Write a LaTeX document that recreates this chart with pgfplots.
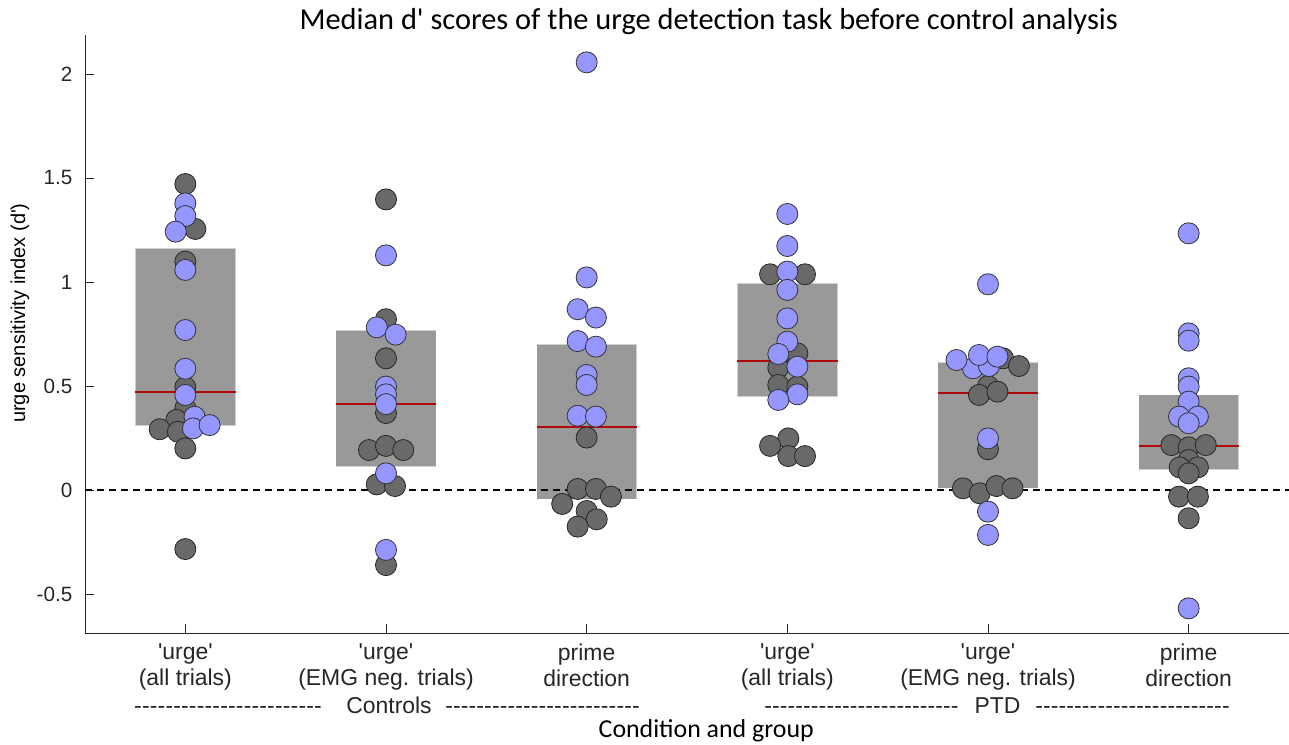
\documentclass[border=0pt]{standalone}
\usepackage{fontspec}
\setmainfont{Liberation Sans}
\newfontfamily\calibri{Carlito}
\usepackage{pgfplots}
\usepackage{pgfplotstable}
\pgfplotsset{compat=1.18}
\definecolor{dotdark}{RGB}{105,105,105}
\definecolor{dotblue}{RGB}{150,150,255}
\definecolor{medred}{RGB}{178,8,8}
\definecolor{axgray}{RGB}{38,38,38}
\newcommand\q{\textquotesingle}

\pgfplotstableread{
x y
1.000 1.471
1.050 1.255
1.000 1.098
1.000 0.494
1.000 0.393
0.955 0.337
0.872 0.292
0.963 0.280
1.000 0.200
1.000 -0.284
2.000 1.397
2.000 0.821
2.000 0.633
2.000 0.370
1.915 0.192
2.000 0.212
2.086 0.192
1.954 0.027
2.045 0.019
2.000 -0.361
3.000 0.252
2.955 0.005
3.046 0.005
3.121 -0.032
2.878 -0.067
3.000 -0.101
3.050 -0.141
2.955 -0.176
3.914 1.037
4.088 1.037
4.050 0.657
3.955 0.588
3.955 0.505
4.050 0.497
4.005 0.248
3.914 0.212
4.005 0.163
4.088 0.163
5.075 0.633
5.154 0.596
5.000 0.500
4.955 0.457
5.047 0.473
5.000 0.196
4.875 0.008
4.959 -0.016
5.042 0.019
5.122 0.008
5.914 0.216
6.000 0.205
6.085 0.216
6.000 0.144
6.046 0.109
5.955 0.109
6.000 0.080
5.952 -0.032
6.046 -0.032
6.000 -0.136
}\darkpts

\pgfplotstableread{
x y
1.000 1.378
1.000 1.317
0.952 1.242
1.000 1.058
1.000 0.769
1.000 0.583
1.000 0.457
1.046 0.352
1.038 0.296
1.121 0.312
2.000 1.128
1.954 0.782
2.048 0.747
2.000 0.497
2.000 0.460
2.000 0.413
2.000 0.080
2.000 -0.288
3.000 2.056
3.000 1.022
2.955 0.869
3.046 0.829
2.955 0.716
3.046 0.689
3.000 0.553
3.000 0.505
2.955 0.357
3.046 0.353
4.000 1.327
4.000 1.173
4.000 1.050
4.000 0.962
4.000 0.825
4.000 0.713
3.955 0.654
4.050 0.593
4.050 0.460
3.955 0.433
4.925 0.585
5.005 0.596
5.000 0.989
4.843 0.625
4.955 0.649
5.047 0.641
5.000 0.248
5.000 -0.104
5.000 -0.216
6.000 1.234
6.000 0.753
6.000 0.718
6.000 0.537
6.000 0.497
6.000 0.425
5.952 0.353
6.046 0.353
6.000 0.321
6.000 -0.569
}\bluepts

\begin{document}
\begin{tikzpicture}[x=1pt,y=1pt]
\useasboundingbox (0,0) rectangle (966.75,558.75);
\begin{axis}[
  at={(63.75pt,84pt)}, anchor=south west,
  scale only axis, width=903pt, height=448.5pt,
  xmin=0.5, xmax=6.5, ymin=-0.6875, ymax=2.1875,
  clip=false,
  axis x line*=bottom, axis y line*=left,
  axis line style={-, draw=axgray, line width=0.6pt},
  tick align=inside, major tick length=7pt,
  tick style={draw=axgray, line width=0.6pt},
  xtick={1,2,3,4,5,6},
  xticklabels={{\q urge\q\\(all trials)},{\q urge\q\\(EMG neg. trials)},{prime\\direction},{\q urge\q\\(all trials)},{\q urge\q\\(EMG neg. trials)},{prime\\direction}},
  xticklabel style={align=center, font=\fontsize{17.2}{19.5}\selectfont, text=axgray, yshift=-4.5pt},
  ytick={-0.5,0,0.5,1,1.5,2},
  yticklabel style={font=\fontsize{15.5}{18}\selectfont, text=axgray, xshift=-6pt},
  /pgf/number format/assume math mode=true,
  title={Median d\q{} scores of the urge detection task before control analysis},
  title style={at={(axis description cs:0.518,1.0083)}, anchor=center, yshift=0pt, font=\calibri\fontsize{22.8}{26}\selectfont},
  xlabel={Condition and group},
  xlabel style={at={(axis description cs:0.516,-0.164)}, anchor=center, font=\calibri\fontsize{19.4}{23}\selectfont},
  ylabel={urge sensitivity index (d\q)},
  ylabel style={at={(axis description cs:-0.054,0.535)}, anchor=center, rotate=0, font=\fontsize{15}{18}\selectfont},
]
% points
\addplot[only marks, mark=*, mark size=7.9pt, mark options={fill=dotdark, draw=black!85, line width=0.6pt}] table[x=x,y=y] {\darkpts};
\addplot[only marks, mark=*, mark size=7.9pt, mark options={fill=dotblue, draw=black!80, line width=0.6pt}] table[x=x,y=y] {\bluepts};
% boxes (quartiles)
\addplot[fill=black, fill opacity=0.4, draw=white, draw opacity=0.55, line width=0.8pt] coordinates {(0.75,0.308) (1.25,0.308) (1.25,1.163) (0.75,1.163)} -- cycle;
\addplot[fill=black, fill opacity=0.4, draw=white, draw opacity=0.55, line width=0.8pt] coordinates {(1.75,0.112) (2.25,0.112) (2.25,0.769) (1.75,0.769)} -- cycle;
\addplot[fill=black, fill opacity=0.4, draw=white, draw opacity=0.55, line width=0.8pt] coordinates {(2.75,-0.045) (3.25,-0.045) (3.25,0.700) (2.75,0.700)} -- cycle;
\addplot[fill=black, fill opacity=0.4, draw=white, draw opacity=0.55, line width=0.8pt] coordinates {(3.75,0.449) (4.25,0.449) (4.25,0.994) (3.75,0.994)} -- cycle;
\addplot[fill=black, fill opacity=0.4, draw=white, draw opacity=0.55, line width=0.8pt] coordinates {(4.75,0.008) (5.25,0.008) (5.25,0.614) (4.75,0.614)} -- cycle;
\addplot[fill=black, fill opacity=0.4, draw=white, draw opacity=0.55, line width=0.8pt] coordinates {(5.75,0.096) (6.25,0.096) (6.25,0.457) (5.75,0.457)} -- cycle;
% medians
\addplot[medred, line width=1.5pt] coordinates {(0.75,0.470) (1.25,0.470)};
\addplot[medred, line width=1.5pt] coordinates {(1.75,0.412) (2.25,0.412)};
\addplot[medred, line width=1.5pt] coordinates {(2.75,0.301) (3.25,0.301)};
\addplot[medred, line width=1.5pt] coordinates {(3.75,0.622) (4.25,0.622)};
\addplot[medred, line width=1.5pt] coordinates {(4.75,0.465) (5.25,0.465)};
\addplot[medred, line width=1.5pt] coordinates {(5.75,0.212) (6.25,0.212)};
% zero line
\addplot[black, line width=1.3pt, dash pattern=on 5.25pt off 3.75pt] coordinates {(0.5,0) (6.5,0)};
% group rows
\node[anchor=base, inner sep=0pt, font=\fontsize{17.2}{19.5}\selectfont, text=axgray] at (axis description cs:0.1188,-0.1338) {\hbox to 141pt{\xleaders\hbox{-}\hfill}};
\node[anchor=base, inner sep=0pt, font=\fontsize{17.2}{19.5}\selectfont, text=axgray] at (axis description cs:0.2525,-0.1338) {Controls};
\node[anchor=base, inner sep=0pt, font=\fontsize{17.2}{19.5}\selectfont, text=axgray] at (axis description cs:0.3800,-0.1338) {\hbox to 146pt{\xleaders\hbox{-}\hfill}};
\node[anchor=base, inner sep=0pt, font=\fontsize{17.2}{19.5}\selectfont, text=axgray] at (axis description cs:0.6449,-0.1338) {\hbox to 146pt{\xleaders\hbox{-}\hfill}};
\node[anchor=base, inner sep=0pt, font=\fontsize{17.2}{19.5}\selectfont, text=axgray] at (axis description cs:0.7579,-0.1338) {PTD};
\node[anchor=base, inner sep=0pt, font=\fontsize{17.2}{19.5}\selectfont, text=axgray] at (axis description cs:0.8700,-0.1338) {\hbox to 146pt{\xleaders\hbox{-}\hfill}};
\end{axis}
\end{tikzpicture}
\end{document}
